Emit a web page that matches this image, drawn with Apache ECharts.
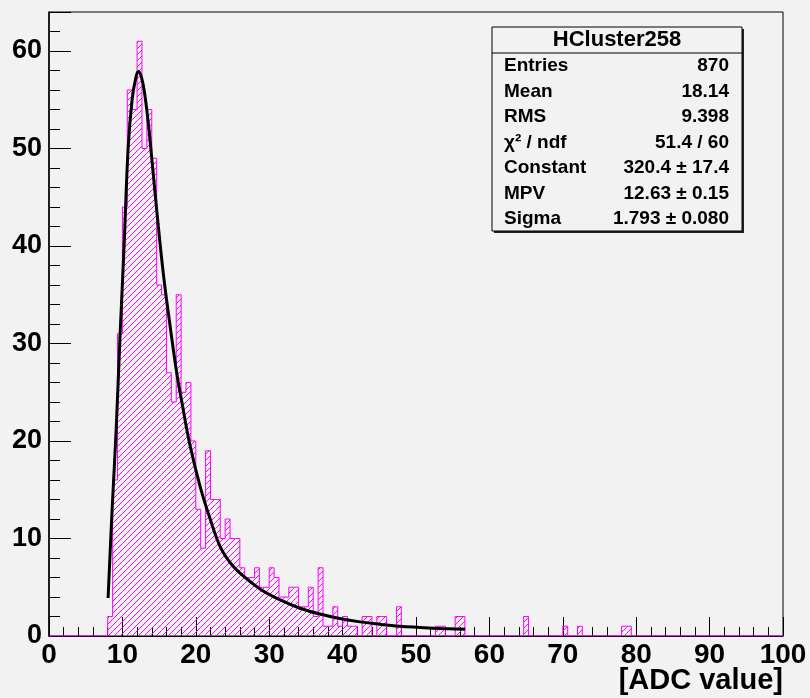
<!DOCTYPE html>
<html>
<head>
<meta charset="utf-8">
<script src="https://cdn.jsdelivr.net/npm/echarts@6/dist/echarts.min.js"></script>
<style>
  html, body { margin: 0; padding: 0; background: #f2f2f2; }
  #chart { width: 810px; height: 698px; }
</style>
</head>
<body>
<div id="chart"></div>
<script>
// histogram: 150 bins of width 2/3 over [0,100], counts start at bin 12 (x = 8)
var binWidth = 2 / 3;
var nBins = 150;
var firstBin = 12;
var counts = [
  2, 16, 31, 44, 56, 54, 61, 50, 54, 49,
  36, 35, 27, 24, 35, 25, 26, 20, 13, 9,
  19, 14, 14, 10, 12, 10, 10, 7, 6, 6,
  7, 5, 5, 7, 6, 4, 4, 5, 5, 3,
  3, 5, 2, 7, 1, 1, 3, 1, 2, 1,
  1, 0, 2, 2, 0, 2, 2, 0, 0, 3,
  0, 0, 0, 0, 0, 0, 0, 1, 1, 0,
  0, 2, 2, 0, 0, 0, 0, 0, 0, 0,
  0, 0, 0, 0, 0, 2, 0, 0, 0, 0,
  0, 0, 0, 1, 0, 0, 1, 0, 0, 0,
  0, 0, 0, 0, 0, 1, 1
];

// landau fit curve
var fitX = [8.05, 8.6, 9.14, 9.69, 10.23, 10.78, 11.32, 11.87, 12.2, 12.6, 13.0, 13.5, 14.0, 14.7, 15.6,
            16.5, 17.4, 18.1, 19.2, 20.6, 22.0, 23.3, 24.7, 26.1, 28.8, 31.5, 34.2, 36.9, 39.6, 42.4,
            45.1, 47.8, 50.5, 53.3, 56.7];
var fitY = [3.9, 13, 21, 31, 40, 50, 55, 57.4, 57.9, 57.3, 55.8, 52.8, 49, 43.5, 37,
            31.8, 27, 24, 19.6, 15.3, 11.9, 9.2, 7.5, 6.4, 4.8, 3.7, 2.85, 2.25, 1.8, 1.45,
            1.2, 1.0, 0.88, 0.77, 0.68];

var xTicks = [0, 10, 20, 30, 40, 50, 60, 70, 80, 90, 100];
var yTicks = [0, 10, 20, 30, 40, 50, 60];

var statTitle = 'HCluster258';
var statNames = ['Entries', 'Mean', 'RMS', 'χ² / ndf', 'Constant', 'MPV', 'Sigma'];
var statValues = ['870', '18.14', '9.398', '51.4 / 60', '320.4 ± 17.4', '12.63 ± 0.15', '1.793 ± 0.080'];

var MAGENTA = '#ff00ff';
var BG = '#f2f2f2';
var FONT = 'Liberation Sans, Arial, sans-serif';
var HATCH_STEP = 6;

// full bin list
var bins = [];
for (var i = 0; i < nBins; i++) {
  var c = (i >= firstBin && i - firstBin < counts.length) ? counts[i - firstBin] : 0;
  bins.push([i * binWidth, (i + 1) * binWidth, c]);
}
var stepData = bins.map(function (b) { return [b[0], b[2]]; });
stepData.push([100, bins[nBins - 1][2]]);

var fitData = fitX.map(function (x, k) { return [x, fitY[k]]; });

// "////" hatch lines (x + y = const in screen space) clipped to one bin rectangle
function hatchPath(x0, y0, x1, y1) {
  var d = '';
  var cStart = Math.ceil((x0 + y0) / HATCH_STEP) * HATCH_STEP;
  for (var cc = cStart; cc <= x1 + y1; cc += HATCH_STEP) {
    var xa = Math.max(x0, cc - y1);
    var xb = Math.min(x1, cc - y0);
    if (xb <= xa) continue;
    d += 'M' + xa.toFixed(2) + ' ' + (cc - xa).toFixed(2) + 'L' + xb.toFixed(2) + ' ' + (cc - xb).toFixed(2);
  }
  return d;
}

var myChart = echarts.init(document.getElementById('chart'), null, { renderer: 'canvas' });

var boxX = 492, boxY = 27, boxW = 250, boxH = 204, rowH = 25.5;
var statGraphics = [
  { type: 'rect', z: 100, shape: { x: boxX + 2, y: boxY + 2, width: boxW, height: boxH }, style: { fill: '#222' } },
  { type: 'rect', z: 101, shape: { x: boxX, y: boxY, width: boxW, height: boxH }, style: { fill: BG, stroke: '#000', lineWidth: 1 } },
  { type: 'line', z: 102, shape: { x1: boxX, y1: boxY + 26, x2: boxX + boxW, y2: boxY + 26 }, style: { stroke: '#000', lineWidth: 1 } },
  { type: 'text', z: 102, x: boxX + boxW / 2, y: boxY + 13,
    style: { text: statTitle, font: 'bold 22px ' + FONT, fill: '#000', align: 'center', verticalAlign: 'middle' } }
];
statNames.forEach(function (n, k) {
  var yy = boxY + 39 + k * rowH;
  statGraphics.push({ type: 'text', z: 102, x: boxX + 12, y: yy,
    style: { text: n, font: 'bold 19px ' + FONT, fill: '#000', align: 'left', verticalAlign: 'middle' } });
  statGraphics.push({ type: 'text', z: 102, x: boxX + boxW - 13, y: yy,
    style: { text: statValues[k], font: 'bold 19px ' + FONT, fill: '#000', align: 'right', verticalAlign: 'middle' } });
});
statGraphics.push({ type: 'text', z: 102, right: 27, top: 666,
  style: { text: '[ADC value]', font: 'bold 29px ' + FONT, fill: '#000' } });

var option = {
  backgroundColor: BG,
  animation: false,
  grid: { left: 49, right: 27, top: 12, bottom: 62, show: true, borderColor: '#000', borderWidth: 1, backgroundColor: 'transparent' },
  xAxis: {
    type: 'value', min: 0, max: 100, interval: 10,
    axisLine: { show: true, lineStyle: { color: '#000', width: 1 } },
    axisTick: { show: true, inside: true, length: 19, lineStyle: { color: '#000' } },
    minorTick: { show: true, splitNumber: 5, length: 9, lineStyle: { color: '#000' } },
    splitLine: { show: false },
    axisLabel: {
      margin: 5, color: '#000', fontFamily: FONT, fontWeight: 'bold', fontSize: 28,
      formatter: function (v) { return xTicks.indexOf(v) >= 0 ? String(v) : ''; }
    }
  },
  yAxis: [{
    type: 'value', min: 0, max: 64, interval: 2,
    axisLine: { show: true, lineStyle: { color: '#000', width: 1.5 } },
    axisTick: { show: true, inside: true, length: 11, lineStyle: { color: '#000' } },
    splitLine: { show: false },
    axisLabel: {
      margin: 7, color: '#000', fontFamily: FONT, fontWeight: 'bold', fontSize: 27,
      formatter: function (v) { return yTicks.indexOf(v) >= 0 ? String(v) : ''; }
    }
  }, {
    type: 'value', min: 0, max: 64, interval: 10, position: 'left',
    axisLine: { show: false },
    axisTick: { show: true, inside: true, length: 22, lineStyle: { color: '#000' } },
    splitLine: { show: false },
    axisLabel: { show: false }
  }],
  graphic: statGraphics,
  series: [
    {
      type: 'custom',
      z: 2,
      data: bins.filter(function (b) { return b[2] > 0; }),
      renderItem: function (params, api) {
        var p0 = api.coord([api.value(0), api.value(2)]);
        var p1 = api.coord([api.value(1), 0]);
        return {
          type: 'path',
          shape: { pathData: hatchPath(p0[0], p0[1], p1[0], p1[1]) },
          style: { fill: null, stroke: MAGENTA, lineWidth: 1 }
        };
      }
    },
    {
      type: 'line', z: 3, step: 'end', symbol: 'none',
      data: stepData,
      lineStyle: { color: MAGENTA, width: 1 }
    },
    {
      type: 'line', z: 4, smooth: 0.4, symbol: 'none',
      data: fitData,
      lineStyle: { color: '#000', width: 3 }
    }
  ]
};
myChart.setOption(option);
</script>
</body>
</html>
